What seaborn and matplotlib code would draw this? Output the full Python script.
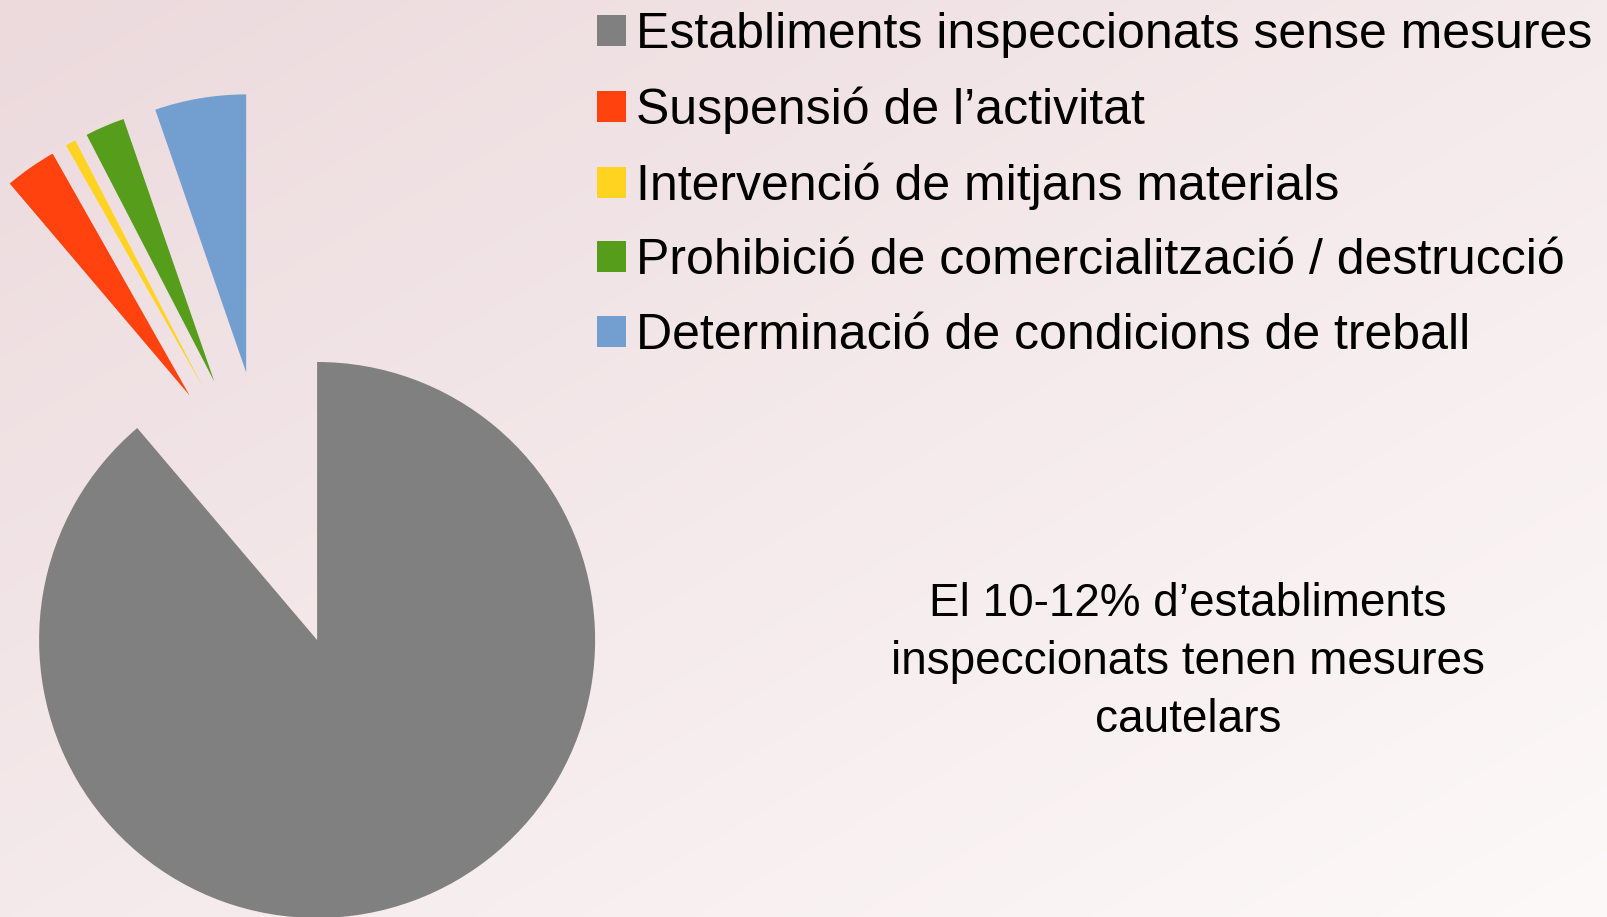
import numpy as np
import matplotlib
matplotlib.use("Agg")
import matplotlib.pyplot as plt
import seaborn as sns
from matplotlib.patches import Patch

# Data
categories = [
    "Establiments inspeccionats sense mesures",
    "Suspensió de l’activitat",
    "Intervenció de mitjans materials",
    "Prohibició de comercialització / destrucció",
    "Determinació de condicions de treball",
]
shares = [88.8, 3.0, 0.6, 2.3, 5.3]
colors = ["#808080", "#FF420E", "#FFD320", "#579D1C", "#729FCF"]
explode = [0.5, 0.5, 0.5, 0.5, 0.5]
note = "El 10-12% d’establiments\ninspeccionats tenen mesures\ncautelars"

sns.set_style("white")
plt.rcParams['font.family'] = ['Liberation Sans', 'DejaVu Sans']

W, H = 1608, 917
fig = plt.figure(figsize=(W / 100, H / 100), dpi=100)

# diagonal pink gradient background
bg = fig.add_axes([0, 0, 1, 1], zorder=0)
yy, xx = np.mgrid[0:H, 0:W]
t = xx * 0.5 + yy * 0.866
t = t / t.max()
top = np.array([236, 218, 221]) / 255
bottom = np.array([253, 249, 249]) / 255
img = top + (bottom - top) * t[..., None]
bg.imshow(img, aspect='auto', extent=(0, W, H, 0))
bg.axis('off')

# pie: un-exploded center at (269, 509) px, radius 278 px
cx, cy, r = 269.2, 509.5, 278
ax = fig.add_axes([0, 0, 1, 1], zorder=1)
ax.patch.set_alpha(0)
ax.pie(shares, colors=colors, explode=explode, startangle=90, counterclock=False,
       radius=1, wedgeprops=dict(linewidth=0))
ax.set_aspect('auto')
ax.set_xlim(-cx / r, (W - cx) / r)
ax.set_ylim(-(H - cy) / r, cy / r)
ax.axis('off')

handles = [Patch(facecolor=c, edgecolor='none') for c in colors]
fig.legend(handles, categories, loc='upper left',
           bbox_to_anchor=(597 / W, 1 - 12 / H), frameon=False,
           fontsize=36, labelcolor='black', handlelength=0.58, handleheight=0.58,
           handletextpad=0.2, labelspacing=0.57, borderpad=0, borderaxespad=0)

fig.text(1188 / W, 1 - 582 / H, note, ha='center', va='top', multialignment='center',
         fontsize=33, linespacing=1.415, color='black')

fig.savefig("out.png", dpi=100)
